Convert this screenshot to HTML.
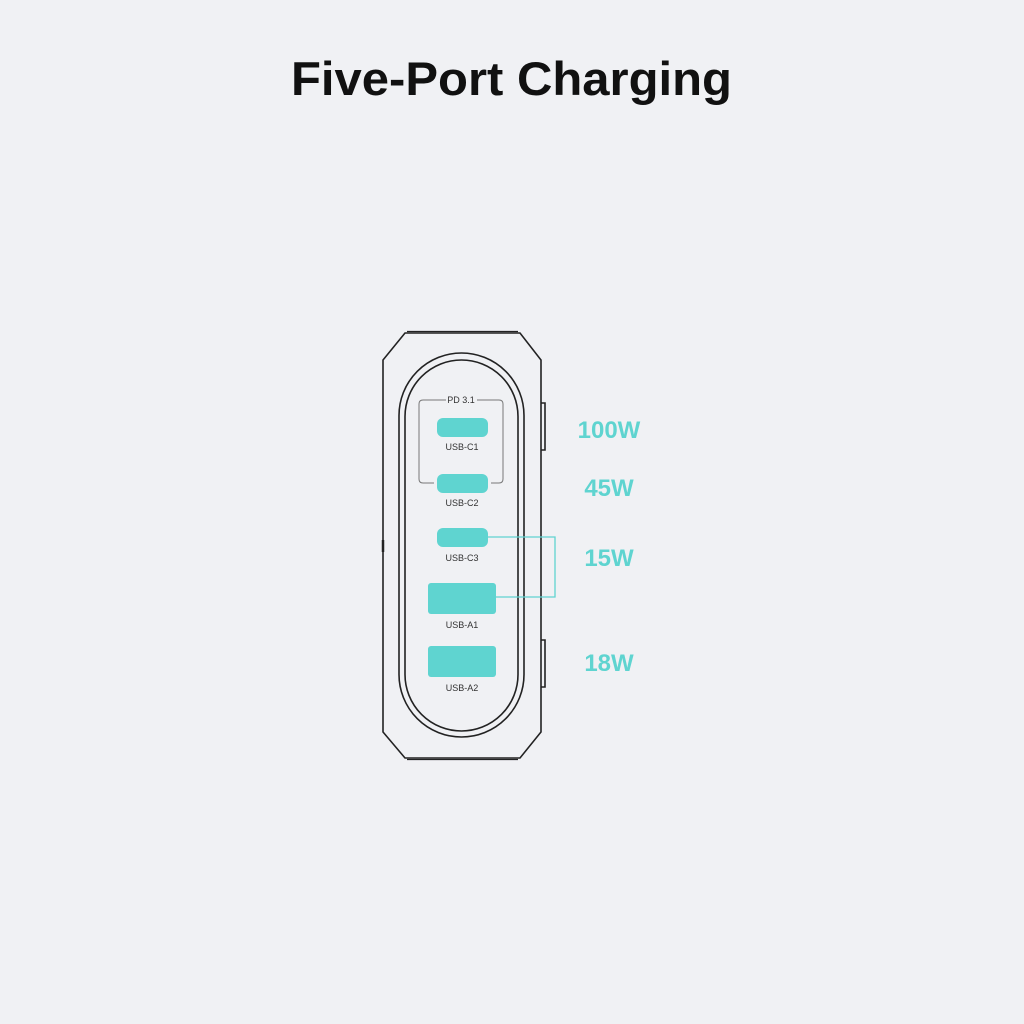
<!DOCTYPE html>
<html><head><meta charset="utf-8"><style>
html,body{margin:0;padding:0;background:#f0f1f4;}
svg{display:block}
</style></head><body>
<svg width="1024" height="1024" viewBox="0 0 1024 1024" xmlns="http://www.w3.org/2000/svg">
<rect width="1024" height="1024" fill="#f0f1f4"/>
<text x="291" y="95" font-family="Liberation Sans, sans-serif" font-weight="bold" font-size="47" textLength="441" lengthAdjust="spacingAndGlyphs" fill="#111">Five-Port Charging</text>
<g fill="none" stroke="#222" stroke-width="1.6">
<path d="M405 333 L520 333 L541 360 L541 732 L520 758 L405 758 L383 732 L383 360 Z"/>
<line x1="407" y1="331.5" x2="518" y2="331.5" stroke-width="1.2"/>
<line x1="407" y1="759.5" x2="518" y2="759.5" stroke-width="1.2"/>
<rect x="399" y="353" width="125" height="384" rx="62.5"/>
<rect x="405" y="360" width="113" height="371" rx="56.5"/>
<path d="M541 403 L545 403 L545 450 L541 450"/>
<path d="M541 640 L545 640 L545 687 L541 687"/>
<line x1="383" y1="540" x2="383" y2="552" stroke-width="2.5"/>
</g>
<path d="M446 400 L423 400 Q419 400 419 404 L419 479 Q419 483 423 483 L434 483 M491 483 L499 483 Q503 483 503 479 L503 404 Q503 400 499 400 L477 400" fill="none" stroke="#777" stroke-width="1"/>
<g font-family="Liberation Sans, sans-serif" font-size="9" fill="#333" text-anchor="middle">
<text x="461" y="403">PD 3.1</text>
<text x="462" y="450">USB-C1</text>
<text x="462" y="506">USB-C2</text>
<text x="462" y="561">USB-C3</text>
<text x="462" y="628">USB-A1</text>
<text x="462" y="691">USB-A2</text>
</g>
<g fill="#5fd4d0">
<rect x="437" y="418" width="51" height="19" rx="6"/>
<rect x="437" y="474" width="51" height="19" rx="6"/>
<rect x="437" y="528" width="51" height="19" rx="6"/>
<rect x="428" y="583" width="68" height="31" rx="3"/>
<rect x="428" y="646" width="68" height="31" rx="3"/>
</g>
<path d="M488 537 L555 537 L555 597 L496 597" fill="none" stroke="#5fd4d0" stroke-width="1.3"/>
<g font-family="Liberation Sans, sans-serif" font-weight="bold" font-size="24" fill="#5fd4d0" text-anchor="middle">
<text x="609" y="438">100W</text>
<text x="609" y="496">45W</text>
<text x="609" y="566">15W</text>
<text x="609" y="671">18W</text>
</g>
</svg>
</body></html>
